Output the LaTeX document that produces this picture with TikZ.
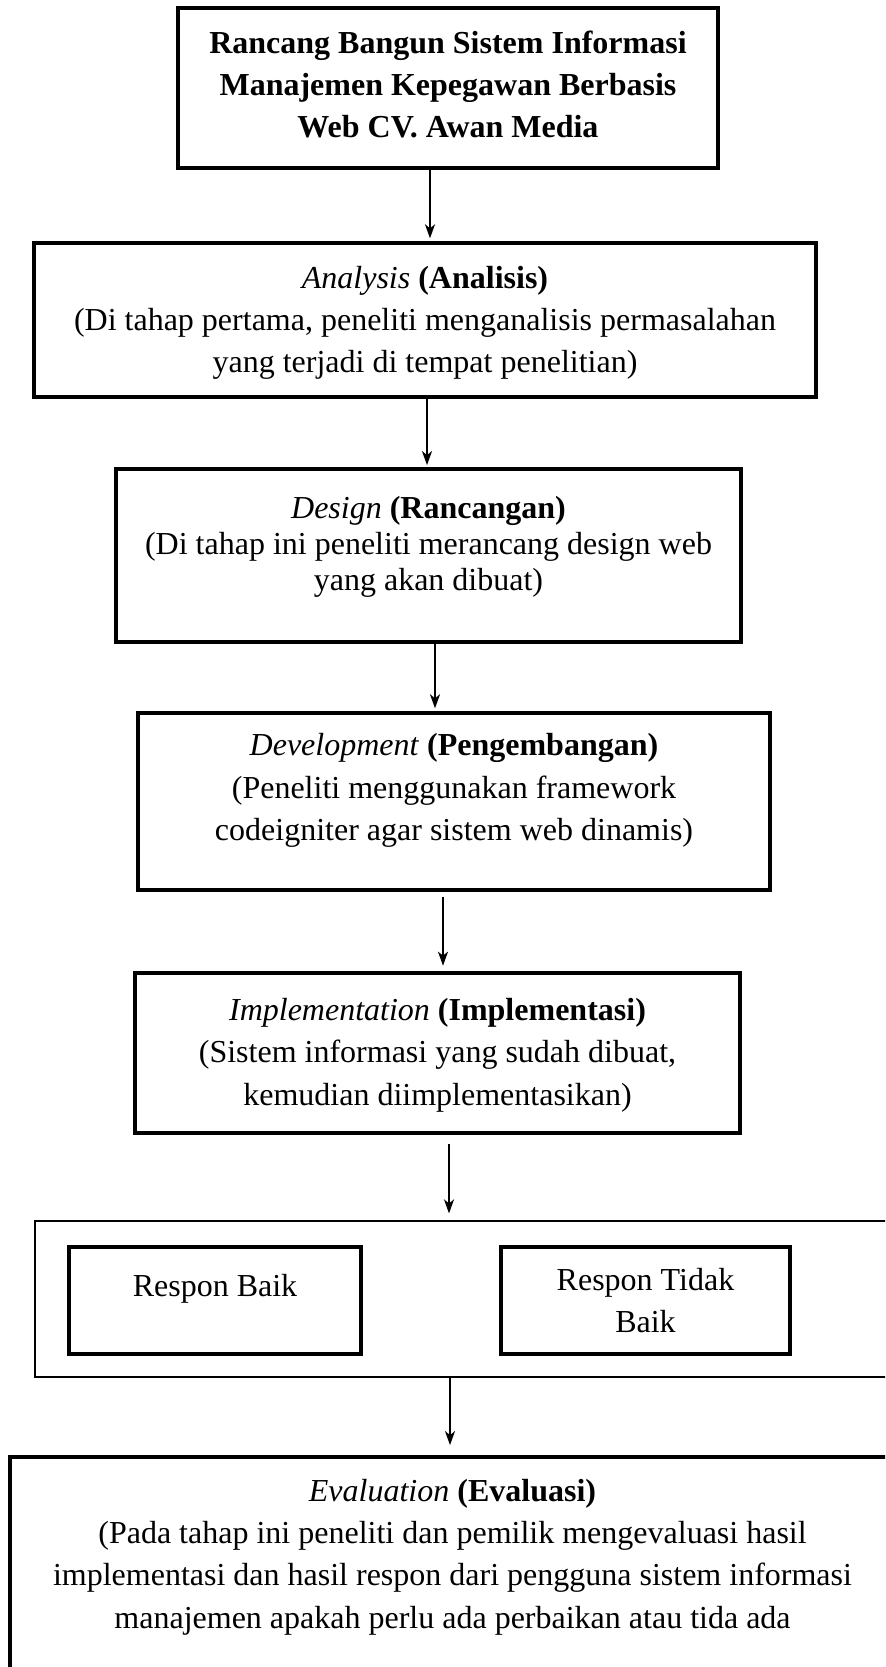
\documentclass[tikz,border=0pt]{standalone}
\usepackage{fontspec}
\setmainfont{Liberation Serif}
\usetikzlibrary{arrows.meta}

\tikzset{
  box/.style={draw, line width=1.5pt, align=center, inner sep=2pt,
    font=\fontsize{12}{15.9}\selectfont},
  arr/.style={-{Stealth[length=5.25pt,width=3.75pt,inset=1.5pt]}, line width=0.7pt}
}

\begin{document}
\begin{tikzpicture}[x=0.375pt,y=-0.375pt]
\useasboundingbox (0,0) rectangle (885,1667);
\clip (0,0) rectangle (885,1667);

\node[box, font=\fontsize{12}{15.75}\selectfont\bfseries, minimum width=202.5pt, minimum height=60pt, text depth=3pt] (judul) at (448,88)
	{Rancang Bangun Sistem Informasi\\Manajemen Kepegawan Berbasis\\Web CV. Awan Media};
\node[box, minimum width=292.9pt, minimum height=57.75pt, text depth=0.5pt] (analisis) at (425,320)
	{\textit{Analysis} \textbf{(Analisis)}\\(Di tahap pertama, peneliti menganalisis permasalahan\\yang terjadi di tempat penelitian)};
\node[box, font=\fontsize{12}{13.6}\selectfont, minimum width=234.4pt, minimum height=64.9pt, text depth=9pt] (desain) at (428.5,555.5)
	{\textit{Design} \textbf{(Rancangan)}\\(Di tahap ini peneliti merancang design web\\yang akan dibuat)};
\node[box, minimum width=237pt, minimum height=66.4pt, text depth=10.8pt] (pengembangan) at (454,801.5)
	{\textit{Development} \textbf{(Pengembangan)}\\(Peneliti menggunakan framework\\codeigniter agar sistem web dinamis)};
\node[box, minimum width=226.9pt, minimum height=60pt, text depth=1pt] (implementasi) at (437.5,1053)
	{\textit{Implementation} \textbf{(Implementasi)}\\(Sistem informasi yang sudah dibuat,\\kemudian diimplementasikan)};

% respon pengguna
\node[draw, line width=0.5pt, minimum width=322.5pt, minimum height=58.5pt] (respon) at (465,1299) {};
\node[box, minimum width=109.5pt, minimum height=40.1pt, text depth=11pt] (baik) at (215,1300.5) {Respon Baik};
\node[box, minimum width=108.4pt, minimum height=40.1pt] (tidakbaik) at (645.5,1300.5) {Respon Tidak\\Baik};

\node[box, minimum width=331.9pt, minimum height=87.4pt, text depth=15pt] (evaluasi) at (452.5,1573.5)
	{\textit{Evaluation} \textbf{(Evaluasi)}\\(Pada tahap ini peneliti dan pemilik mengevaluasi hasil\\implementasi dan hasil respon dari pengguna sistem informasi\\manajemen apakah perlu ada perbaikan atau tida ada};

\draw [arr, shorten >=1pt] (judul.south -| 430,0) -- (analisis.north -| 430,0);
\draw [arr, shorten >=0.7pt] (analisis.south -| 427,0) -- (desain.north -| 427,0);
\draw [arr, shorten >=1pt] (desain.south -| 435,0) -- (pengembangan.north -| 435,0);
\draw [arr, shorten <=2pt, shorten >=2pt] (pengembangan.south -| 443,0) -- (implementasi.north -| 443,0);
\draw [arr, shorten <=3.4pt, shorten >=2.6pt] (implementasi.south -| 449,0) -- (respon.north -| 449,0);
\draw [arr, shorten >=3.7pt] (respon.south -| 450,0) -- (evaluasi.north -| 450,0);
\end{tikzpicture}
\end{document}
